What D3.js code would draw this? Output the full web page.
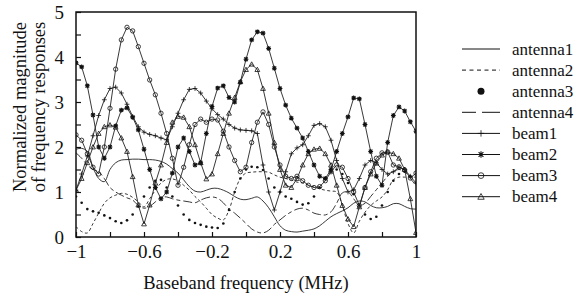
<!DOCTYPE html>
<html>
<head>
<meta charset="utf-8">
<script src="https://cdn.jsdelivr.net/npm/d3@7"></script>
<style>
  body { margin: 0; background: #fff; }
  svg { display: block; }
  text { font-family: "Liberation Serif", "Times New Roman", Times, "DejaVu Serif", serif; }
</style>
</head>
<body>
<svg id="chart" width="581" height="298"></svg>
<script>
var FONT = '"Liberation Serif", "Times New Roman", Times, "DejaVu Serif", serif';

// sample grid, 61 points across the band (MHz)
var freq = d3.range(61).map(function(i) { return -1 + i / 30; });

// normalized magnitudes
var antenna1 = [1.95,1.97,1.9,1.55,1.3,1.23,1.5,1.65,1.71,1.72,1.73,1.73,1.72,1.72,1.71,1.68,1.62,1.52,1.42,1.27,
  1.12,1.02,1.0,1.04,1.08,1.08,1.04,0.98,0.9,0.84,0.83,0.86,0.89,0.8,0.65,0.45,0.25,0.15,0.12,0.11,
  0.13,0.15,0.18,0.25,0.35,0.45,0.52,0.58,0.65,0.75,0.8,0.78,0.7,0.65,0.65,0.68,0.74,0.74,0.68,0.63,0.62];
var antenna2 = [0.23,0.12,0.09,0.3,0.53,0.75,0.87,0.93,0.97,0.95,0.88,0.78,0.67,0.85,1.04,1.2,1.28,1.29,1.25,1.15,
  1.04,0.9,0.78,0.64,0.5,0.42,0.38,0.6,1.0,1.3,1.42,1.44,1.45,1.45,1.44,1.38,1.33,1.3,1.27,1.22,
  1.2,1.15,1.11,1.07,1.04,1.02,1.0,0.7,0.3,0.09,0.35,0.55,0.7,0.8,0.89,1.05,1.27,1.33,1.33,1.33,1.33];
var antenna3 = [0.9,0.76,0.62,0.57,0.54,0.48,0.42,0.35,0.31,0.37,0.5,0.68,0.9,1.1,1.25,1.27,1.1,0.9,0.7,0.5,
  0.38,0.31,0.27,0.23,0.21,0.2,0.3,0.6,1.0,1.3,1.5,1.56,1.55,1.49,1.3,1.1,1.0,0.9,0.85,0.78,
  0.72,0.75,0.9,1.1,1.3,1.45,1.5,1.4,1.2,0.95,0.7,0.5,0.4,0.45,0.7,1.0,1.25,1.4,1.45,1.35,1.2];
var antenna4 = [1.87,1.75,1.6,1.5,1.45,1.3,1.1,1.0,0.93,0.87,0.82,0.7,0.64,0.68,0.78,0.88,0.89,0.85,0.82,0.8,
  0.78,0.76,0.82,0.87,0.89,0.86,0.76,0.62,0.53,0.42,0.3,0.18,0.11,0.09,0.15,0.28,0.38,0.48,0.56,0.62,
  0.64,0.6,0.53,0.5,0.49,0.56,0.75,0.98,1.0,0.85,0.7,0.75,0.9,1.05,1.2,1.35,1.45,1.5,1.45,1.3,1.15];
var beam1 = [1.04,1.4,1.8,2.25,2.7,3.05,3.3,3.33,3.2,2.95,2.68,2.45,2.33,2.28,2.25,2.2,2.16,2.45,2.75,3.05,
  3.28,3.3,3.2,3.02,2.85,2.72,2.62,2.5,2.42,2.38,2.37,2.36,2.3,1.6,1.0,0.6,1.0,1.45,1.85,1.98,
  2.05,2.25,2.48,2.52,2.45,2.15,1.7,1.3,1.0,1.05,1.3,1.6,1.7,1.65,1.5,1.4,1.45,1.55,1.5,1.35,1.2];
var beam2 = [3.87,3.78,3.36,2.71,2.0,1.75,2.0,2.47,2.82,2.87,2.66,2.38,1.95,1.5,1.1,0.85,1.0,1.42,2.0,2.2,
  1.9,1.6,1.65,2.3,2.9,3.31,3.36,3.1,3.0,3.44,3.95,4.38,4.56,4.53,4.19,3.75,3.3,2.93,2.64,2.42,
  2.2,1.9,1.6,1.35,1.3,1.5,1.9,2.3,2.67,3.09,3.07,2.5,1.9,1.35,1.15,2.1,2.7,2.89,2.8,2.56,2.35];
var beam3 = [2.27,2.15,1.85,1.55,1.4,2.0,2.86,3.73,4.38,4.66,4.58,4.23,3.86,3.49,3.16,2.75,2.3,1.75,1.15,1.55,
  2.05,2.5,2.62,2.55,2.62,2.6,2.35,2.0,1.7,1.45,1.55,2.1,2.55,2.78,2.5,2.0,1.6,1.35,1.3,1.35,
  1.25,1.15,1.1,1.12,1.25,1.45,1.6,1.55,1.3,1.0,0.7,1.1,1.45,1.75,1.87,1.89,1.6,1.56,1.49,1.31,1.42];
var beam4 = [1.04,1.3,1.65,2.0,2.3,2.45,2.49,2.44,2.2,1.9,1.34,0.71,0.29,0.71,1.2,1.6,2.1,2.55,2.68,2.66,
  2.45,2.05,1.65,1.29,1.4,1.85,2.3,2.75,3.1,3.45,3.72,3.84,3.72,3.3,2.75,2.1,1.5,1.15,1.1,1.3,
  1.6,1.85,1.95,1.97,1.85,1.6,1.15,0.7,0.4,0.23,0.67,1.1,1.4,1.64,1.82,1.89,1.85,1.75,1.5,0.85,0.1];

var seriesNames = ['antenna1', 'antenna2', 'antenna3', 'antenna4', 'beam1', 'beam2', 'beam3', 'beam4'];
var xTicks = [-1, -0.8, -0.6, -0.4, -0.2, 0, 0.2, 0.4, 0.6, 0.8, 1];
var xLabels = [-1, -0.6, -0.2, 0.2, 0.6, 1];
var yTicks = [0, 0.5, 1, 1.5, 2, 2.5, 3, 3.5, 4, 4.5, 5];
var yLabels = [0, 1, 2, 3, 4, 5];

// how each series is drawn
var styles = {
  antenna1: { dash: null, line: true, marker: null },
  antenna2: { dash: '3,2.5', line: true, marker: null },
  antenna3: { dash: null, line: false, marker: 'dot' },
  antenna4: { dash: '9,3,4,3', line: true, marker: null },
  beam1: { dash: null, line: true, marker: 'plus' },
  beam2: { dash: null, line: true, marker: 'star' },
  beam3: { dash: null, line: true, marker: 'circle' },
  beam4: { dash: null, line: true, marker: 'triangle' }
};
var values = {
  antenna1: antenna1, antenna2: antenna2, antenna3: antenna3, antenna4: antenna4,
  beam1: beam1, beam2: beam2, beam3: beam3, beam4: beam4
};

var plot = { left: 76, right: 416, top: 12, bottom: 237 };

var x = d3.scaleLinear().domain([-1, 1]).range([plot.left, plot.right]);
var y = d3.scaleLinear().domain([0, 5]).range([plot.bottom, plot.top]);

var svg = d3.select('#chart').attr('font-family', FONT);

// marker shapes, drawn as small strokes
var markerPath = function(type, s) {
  var p = d3.path();
  if (type === 'plus') {
    p.moveTo(-s, 0); p.lineTo(s, 0);
    p.moveTo(0, -s); p.lineTo(0, s);
  } else if (type === 'star') {
    p.moveTo(-s, 0); p.lineTo(s, 0);
    p.moveTo(0, -s); p.lineTo(0, s);
    var d = s * 0.75;
    p.moveTo(-d, -d); p.lineTo(d, d);
    p.moveTo(-d, d); p.lineTo(d, -d);
  } else if (type === 'circle') {
    p.arc(0, 0, s * 0.9, 0, 2 * Math.PI);
  } else if (type === 'triangle') {
    p.moveTo(0, -s); p.lineTo(s, s * 0.8); p.lineTo(-s, s * 0.8); p.closePath();
  }
  return p.toString();
};

var drawMarker = function(g, type, cx, cy, s) {
  if (type === 'dot') {
    g.append('circle')
      .attr('cx', cx).attr('cy', cy).attr('r', s * 0.55)
      .attr('fill', '#111');
    return;
  }
  g.append('path')
    .attr('d', markerPath(type, s))
    .attr('transform', 'translate(' + cx + ',' + cy + ')')
    .attr('fill', 'none')
    .attr('stroke', '#111')
    .attr('stroke-width', type === 'star' ? 1.1 : 0.8);
};

// series, clipped to the frame
svg.append('clipPath').attr('id', 'clip')
  .append('rect')
  .attr('x', plot.left).attr('y', plot.top)
  .attr('width', plot.right - plot.left).attr('height', plot.bottom - plot.top);

var series = svg.append('g').attr('clip-path', 'url(#clip)');

var line = d3.line()
  .x(function(d, i) { return x(freq[i]); })
  .y(function(d) { return y(d); });

seriesNames.forEach(function(name) {
  var st = styles[name];
  var vals = values[name];
  var g = series.append('g').attr('class', name);
  if (st.line) {
    g.append('path')
      .datum(vals)
      .attr('d', st.marker ? line.curve(d3.curveLinear) : line.curve(d3.curveCatmullRom))
      .attr('fill', 'none')
      .attr('stroke', '#222')
      .attr('stroke-width', 0.9)
      .attr('stroke-dasharray', st.dash);
  }
  if (st.marker) {
    vals.forEach(function(v, i) {
      drawMarker(g, st.marker, x(freq[i]), y(v), 2.4);
    });
  }
});

// frame and inward ticks
svg.append('rect')
  .attr('x', plot.left).attr('y', plot.top)
  .attr('width', plot.right - plot.left).attr('height', plot.bottom - plot.top)
  .attr('fill', 'none')
  .attr('stroke', '#111')
  .attr('stroke-width', 1.5);

var xAxis = d3.axisBottom(x)
  .tickValues(xTicks)
  .tickSizeInner(-5)
  .tickSizeOuter(0)
  .tickFormat(function(d) { return xLabels.indexOf(d) >= 0 ? String(d).replace('-', '\u2212') : ''; });

var gx = svg.append('g')
  .attr('transform', 'translate(0,' + plot.bottom + ')')
  .call(xAxis)
  .attr('font-family', FONT)
  .attr('font-size', 19);
gx.select('.domain').remove();
gx.selectAll('.tick line').attr('stroke', '#111').attr('stroke-width', 1.2);
gx.selectAll('.tick text')
  .attr('y', 8)
  .attr('dy', '0.71em')
  .attr('fill', '#111');

var yAxis = d3.axisLeft(y)
  .tickValues(yTicks)
  .tickSizeInner(-5)
  .tickSizeOuter(0)
  .tickFormat(function(d) { return yLabels.indexOf(d) >= 0 ? d : ''; });

var gy = svg.append('g')
  .attr('transform', 'translate(' + plot.left + ',0)')
  .call(yAxis)
  .attr('font-family', FONT)
  .attr('font-size', 19);
gy.select('.domain').remove();
gy.selectAll('.tick line').attr('stroke', '#111').attr('stroke-width', 1.2);
gy.selectAll('.tick text')
  .attr('x', -12)
  .attr('fill', '#111');

// axis titles
svg.append('text')
  .attr('x', (plot.left + plot.right) / 2)
  .attr('y', 289)
  .attr('text-anchor', 'middle')
  .attr('font-size', 18.5)
  .attr('fill', '#111')
  .text('Baseband frequency (MHz)');

var ylab = svg.append('text')
  .attr('transform', 'translate(26,107) rotate(-90)')
  .attr('text-anchor', 'middle')
  .attr('font-size', 18.5)
  .attr('fill', '#111');
ylab.append('tspan').attr('x', 0).attr('dy', 0).text('Normalized magnitude');
ylab.append('tspan').attr('x', 0).attr('dy', 19).text('of frequency responses');

// legend
var legend = svg.append('g');
seriesNames.forEach(function(name, k) {
  var st = styles[name];
  var ly = 49 + k * 21.1;
  if (st.line) {
    legend.append('line')
      .attr('x1', 462).attr('x2', 500)
      .attr('y1', ly).attr('y2', ly)
      .attr('stroke', '#111')
      .attr('stroke-width', 1)
      .attr('stroke-dasharray', name === 'antenna2' ? '4,3.5' : (name === 'antenna4' ? '14,6,8,0' : null));
  }
  if (st.marker) {
    if (st.marker === 'dot') {
      legend.append('circle').attr('cx', 481).attr('cy', ly).attr('r', 3.5).attr('fill', '#111');
    } else {
      drawMarker(legend, st.marker, 481, ly, 3.2);
    }
  }
  legend.append('text')
    .attr('x', 512)
    .attr('y', ly)
    .attr('dy', '0.33em')
    .attr('font-size', 17)
    .attr('fill', '#111')
    .text(name);
});
</script>
</body>
</html>
